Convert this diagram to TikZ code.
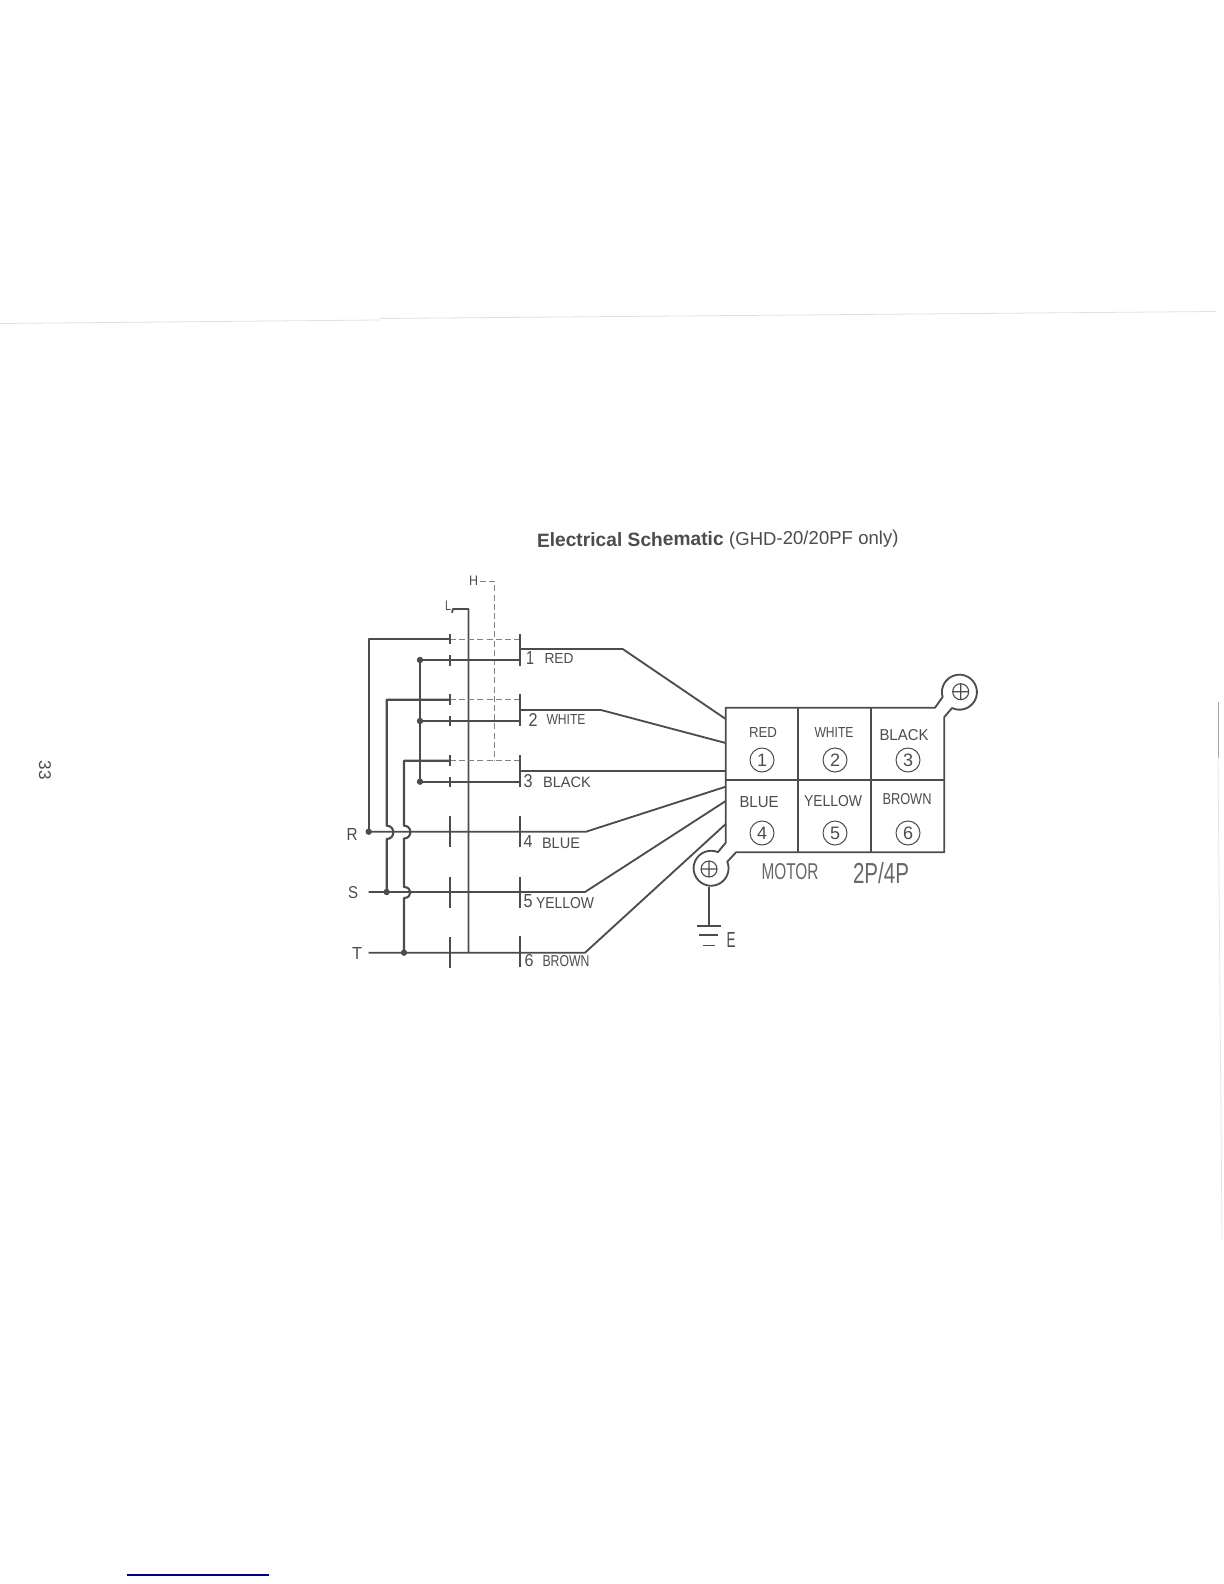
\documentclass[tikz,border=0pt]{standalone}
\usepackage{fontspec}
\usepackage{graphicx}
\setmainfont{Liberation Sans}
\definecolor{ink}{gray}{0.30}
\definecolor{pageink}{gray}{0.88}
\newcommand{\fitlab}[3]{\resizebox{#1\dimexpr0.5pt\relax}{#2\dimexpr0.5pt\relax}{#3}}
\tikzset{
  wire/.style={draw=ink,line width=1.05pt,line join=round},
  thinwire/.style={draw=ink,line width=0.92pt,line join=round},
  dashwire/.style={draw=ink!70,line width=0.5pt,dash pattern=on 3pt off 1.6pt},
  fine/.style={draw=ink,line width=0.55pt},
  tick/.style={draw=ink,line width=0.95pt},
  dot/.style={circle,fill=ink,draw=none,inner sep=0pt,minimum size=3.2pt},
  lab/.style={text=ink,inner sep=0pt,outer sep=0pt},
  num/.style={circle,draw=ink,line width=0.5pt,text=ink,inner sep=0pt,minimum size=12pt,font=\fontsize{9}{10}\selectfont},
}
\begin{document}
\begin{tikzpicture}[x=0.5pt,y=-0.5pt]
\useasboundingbox (0,0) rectangle (1224,1584);
\fill[white] (0,0) rectangle (1224,1584);
% page marks
\draw[pageink,line width=0.4pt] (0,323.5) -- (380,320) (380,318.5) -- (1216,311.5);
\draw[gray!70,line width=0.5pt] (1218,702) -- (1218,758);
\draw[gray!20,line width=0.4pt] (1218,758) -- (1222,1240);
\draw[blue!55!black,line width=0.7pt] (127,1575) -- (269,1575);
\node[lab,rotate=-90,font=\fontsize{8.5}{10}\selectfont] (pg) at (45,770) {33};
% title
\node[lab,anchor=base west,rotate=0.5,font=\fontsize{9.6}{11}\selectfont] (title) at (537,547)
  {\textbf{Electrical Schematic} {\fontsize{9.3}{11}\selectfont(GHD-20/20PF only)}};
% coordinates
\coordinate (xR) at (368.7,0); \coordinate (xS) at (386.7,0); \coordinate (xT) at (404,0);
\coordinate (xJ) at (420,0); \coordinate (xA) at (449.7,0); \coordinate (xL) at (468.5,0);
\coordinate (xH) at (494,0); \coordinate (xB) at (520,0);
\coordinate (r1) at (0,639); \coordinate (r1b) at (0,660);
\coordinate (r2) at (0,699.7); \coordinate (r2b) at (0,721);
\coordinate (r3) at (0,760.7); \coordinate (r3b) at (0,781.7);
\coordinate (rR) at (0,831.7); \coordinate (rS) at (0,892); \coordinate (rT) at (0,952.7);
% labels H L
\node[lab] (H) at (473.5,581) {\fitlab{9}{9.5}{H}};
\node[lab] (L) at (448,606) {\fitlab{6}{9.5}{L}};
\coordinate (Hc) at (494,581);
\coordinate (Lc) at (468.5,609);
\draw[dashwire] (H.east)++(2,0) -- (Hc) -- (xH |- r3);
\draw[thinwire] (L.south east)++(1,2) -- (453,609) -- (Lc) -- (xL |- rT);
% dashed top rows
\draw[wire] (xR |- rR) -- (xR |- r1) -- (xA |- r1);
\draw[dashwire] (xA |- r1) -- (xB |- r1);
\draw[wire] (xS |- rS) -- (386.7,839) .. controls (395.5,839) and (395.5,825.7) .. (386.7,825.7) -- (xS |- r2) -- (xA |- r2);
\draw[dashwire] (xA |- r2) -- (xB |- r2);
\draw[wire] (xT |- rT) -- (404,898) .. controls (412.5,898) and (412.5,887) .. (404,887) -- (404,838.5) .. controls (412.5,838.5) and (412.5,825.7) .. (404,825.7) -- (xT |- r3) -- (xA |- r3);
\draw[dashwire] (xA |- r3) -- (xB |- r3);
% joined rows
\draw[thinwire] (xJ |- r1b) -- (xJ |- r3b);
\draw[wire] (xJ |- r1b) -- (xB |- r1b);
\draw[wire] (xJ |- r2b) -- (xB |- r2b);
\draw[wire] (xJ |- r3b) -- (xB |- r3b);
\node[dot] (d1) at (xJ |- r1b) {};
\node[dot] (d2) at (xJ |- r2b) {};
\node[dot] (d3) at (xJ |- r3b) {};
% RST
\node[lab] (R) at (352,834) {\fitlab{11}{12}{R}};
\node[lab] (S) at (353,893) {\fitlab{10}{12}{S}};
\node[lab] (T) at (357,953) {\fitlab{10}{12}{T}};
% motor corner points for wires
\coordinate (BL) at (725.7,842.7);
\coordinate (t1) at (725.7,719); \coordinate (t2) at (725.7,743); \coordinate (t3) at (725.7,770.7);
\coordinate (t4) at (725.7,786.7); \coordinate (t5) at (725.7,801); \coordinate (t6) at (725.7,824);
% output wires
\draw[thinwire] (xB |- 0,649) -- (622.7,649) -- (t1);
\draw[thinwire] (xB |- 0,710) -- (601,710) -- (t2);
\draw[thinwire] (xB |- t3) -- (t3);
\draw[thinwire] (xR |- rR) -- (586,831.7) -- (t4);
\draw[thinwire] (xR |- rS) -- (585,892) -- (t5);
\draw[thinwire] (xR |- rT) -- (585,952.7) -- (t6);
\node[dot] (dR) at (xR |- rR) {};
\node[dot] (dS) at (xS |- rS) {};
\node[dot] (dT) at (xT |- rT) {};
% ticks
\foreach \a/\b in {634/644,655/666,694/705,716/726,755/766,777/787,816/847,877/908,937/968}
  \draw[tick] (449.7,\a) -- (449.7,\b);
\foreach \a/\b in {634/666,694/726,755/787,816/847,877/908,936/967}
  \draw[tick] (520,\a) -- (520,\b);
% wire labels
\node[lab] at (530,658) {\fitlab{8}{13}{1}};
\node[lab] at (559,658) {\fitlab{29}{10}{RED}};
\node[lab] at (533,720) {\fitlab{9}{13}{2}};
\node[lab] at (566,719) {\fitlab{39}{10}{WHITE}};
\node[lab] at (528,781) {\fitlab{9}{13}{3}};
\node[lab] at (567,782) {\fitlab{48}{10.5}{BLACK}};
\node[lab] at (528,841) {\fitlab{9}{12}{4}};
\node[lab] at (561,843) {\fitlab{38}{10.5}{BLUE}};
\node[lab] at (528,901) {\fitlab{9}{13}{5}};
\node[lab] at (565,903) {\fitlab{58}{11}{YELLOW}};
\node[lab] at (529,961) {\fitlab{9}{12}{6}};
\node[lab] at (566,961) {\fitlab{47}{11}{BROWN}};
% motor box outline with lugs
\draw[thinwire] (725.7,842.7) -- (725.7,707.7) -- (935,707.7) -- (942.6,697.0)
  arc[start angle=164,end angle=475,radius=17.5] -- (944.3,717) -- (944.3,852.3) -- (736,852.3) -- (727.3,861.7)
  arc[start angle=-22,end angle=293,radius=17.5] -- cycle;
\draw[thinwire] (798.3,707.7) -- (798.3,852.3);
\draw[thinwire] (871,707.7) -- (871,852.3);
\draw[thinwire] (725.7,780) -- (944.3,780);
% box labels
\node[lab] at (763,732) {\fitlab{28}{10}{RED}};
\node[lab] at (834,732) {\fitlab{39}{10}{WHITE}};
\node[lab] at (904,735) {\fitlab{49}{11}{BLACK}};
\node[lab] at (759,802) {\fitlab{39}{11}{BLUE}};
\node[lab] at (833,801) {\fitlab{58}{11}{YELLOW}};
\node[lab] at (907,799) {\fitlab{49}{11}{BROWN}};
\node[num] (n1) at (762,760) {1};
\node[num] (n2) at (835,760) {2};
\node[num] (n3) at (908,760) {3};
\node[num] (n4) at (762,833) {4};
\node[num] (n5) at (835,833) {5};
\node[num] (n6) at (908,833) {6};
\node[lab,text=ink!85] (motor) at (790,872) {\fitlab{57}{16}{MOTOR}};
\node[lab,text=ink!85] (pp) at (881,873) {\fitlab{56}{21}{2P/4P}};
% earth symbols
\coordinate (ea) at (960.7,691.7);
\coordinate (eb) at (709,869);
\draw[fine] (ea) circle[radius=8] (952.7,691.7) -- (968.7,691.7) (960.7,683.7) -- (960.7,699.7);
\draw[fine] (eb) circle[radius=8] (701,869) -- (717,869) (709,861) -- (709,877);
\coordinate (g0) at (709,886.5);
\coordinate (g1) at (709,926);
\draw[fine] (g0) -- (g1);
\draw[fine] (697,926) -- (721,926);
\draw[fine] (699,935) -- (718,935);
\draw[fine] (703,945.7) -- (715,945.7);
\node[lab] (E) at (731,940) {\fitlab{9}{15}{E}};
\end{tikzpicture}
\end{document}
